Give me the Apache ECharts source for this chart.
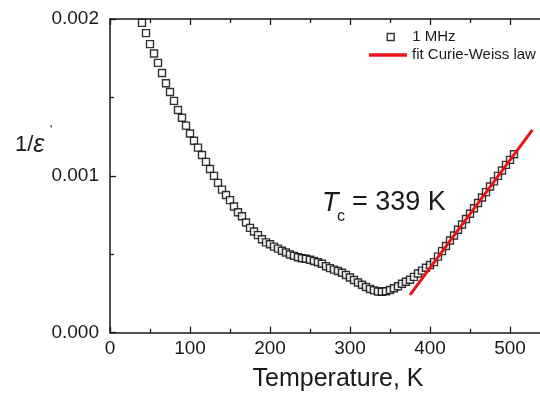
<!DOCTYPE html>
<html>
<head>
<meta charset="utf-8">
<script src="https://cdn.jsdelivr.net/npm/echarts@6/dist/echarts.min.js"></script>
<style>
html,body{margin:0;padding:0;background:#fff;}
#c{width:540px;height:396px;}
</style>
</head>
<body>
<div id="c"></div>
<script>
// Temperature (K) of each measured point
const temps = [40,45,50,55,60,65,70,75,80,85,90,95,100,105,110,115,120,125,130,135,140,145,150,155,160,165,170,175,180,185,190,195,200,205,210,215,220,225,230,235,240,245,250,255,260,265,270,275,280,285,290,295,300,305,310,315,320,325,330,335,340,345,350,355,360,365,370,375,380,385,390,395,400,405,410,415,420,425,430,435,440,445,450,455,460,465,470,475,480,485,490,495,500,505];
// 1/eps' at 1 MHz
const invEps = [0.001975,0.00191,0.00184,0.00178,0.00172,0.001656,0.00159,0.001535,0.001478,0.00142,0.00137,0.00132,0.00127,0.001224,0.00118,0.001133,0.001089,0.001044,0.001,0.000955,0.000912,0.000878,0.000845,0.000805,0.000768,0.000742,0.000703,0.000668,0.000645,0.000622,0.000596,0.000576,0.000564,0.000549,0.000536,0.000522,0.000511,0.000499,0.00049,0.000481,0.000475,0.000471,0.000465,0.000457,0.000449,0.00044,0.000424,0.000412,0.000402,0.000393,0.000382,0.000368,0.000352,0.000336,0.00032,0.000306,0.000291,0.000279,0.00027,0.000263,0.000261,0.000264,0.000272,0.000283,0.000296,0.000312,0.000325,0.000338,0.000356,0.000377,0.000396,0.000414,0.000432,0.00045,0.000485,0.00052,0.000553,0.000588,0.00062,0.000656,0.00069,0.000725,0.000758,0.000793,0.000827,0.000862,0.000896,0.000932,0.000965,0.001,0.001034,0.00107,0.001102,0.001138];
// Curie-Weiss fit line endpoints
const fitT = [375, 528];
const fitV = [0.000241, 0.001293];

const seriesNames = ['1 MHz', 'fit Curie-Weiss law'];
const xTitle = 'Temperature, K';

const RED = '#e8141a';
const INK = '#1a1a1a';
const FONT = '"Liberation Sans", Arial, sans-serif';

const chart = echarts.init(document.getElementById('c'), null, {renderer: 'canvas'});

const baseX = {
  type: 'value', min: 0, max: 550, interval: 100,
  axisLine: {show: true, lineStyle: {color: INK, width: 1.5}},
  axisTick: {show: true, inside: true, length: 6, lineStyle: {color: INK, width: 1.3}},
  minorTick: {show: true, splitNumber: 2, length: 4, lineStyle: {color: INK, width: 1.3}},
  splitLine: {show: false}
};

chart.setOption({
  animation: false,
  backgroundColor: '#fff',
  grid: {left: 110, top: 19, width: 440, height: 313.7, containLabel: false, outerBoundsMode: 'none'},
  xAxis: [
    Object.assign({}, baseX, {
      position: 'bottom',
      axisLabel: {show: true, margin: 7, color: INK, fontSize: 19, fontFamily: FONT, showMaxLabel: false,
        formatter: v => (v % 100 === 0 ? String(v) : '')}
    }),
    Object.assign({}, baseX, {position: 'top', axisLabel: {show: false}})
  ],
  yAxis: {
    type: 'value', min: 0, max: 0.002, interval: 0.001,
    axisLine: {show: true, lineStyle: {color: INK, width: 1.5}},
    axisTick: {show: true, inside: true, length: 6, lineStyle: {color: INK, width: 1.3}},
    minorTick: {show: true, splitNumber: 2, length: 4, lineStyle: {color: INK, width: 1.3}},
    splitLine: {show: false},
    axisLabel: {margin: 11, color: INK, fontSize: 19, fontFamily: FONT, formatter: v => v.toFixed(3)}
  },
  legend: [
    {
      data: [{name: seriesNames[0], icon: 'rect'}],
      left: 386.5, top: 29.5, itemWidth: 7, itemHeight: 7, padding: 0,
      itemStyle: {color: '#fff', borderColor: '#000', borderWidth: 1.4},
      formatter: n => '{a|' + n + '}',
      textStyle: {fontSize: 15, color: INK, fontFamily: FONT,
        rich: {a: {fontSize: 15, color: INK, fontFamily: FONT, padding: [0, 0, 0, 13]}}},
      selectedMode: false
    },
    {
      data: [{name: seriesNames[1], icon: 'rect'}],
      left: 369, top: 47.5, itemWidth: 38, itemHeight: 3.5, padding: 0,
      itemStyle: {color: RED, borderWidth: 0},
      textStyle: {fontSize: 15, color: INK, fontFamily: FONT},
      selectedMode: false
    }
  ],
  series: [
    {
      name: seriesNames[0], type: 'scatter', xAxisIndex: 0,
      data: temps.map((t, i) => [t, invEps[i]]),
      symbol: 'rect', symbolSize: 7,
      itemStyle: {color: '#fff', borderColor: '#000', borderWidth: 1.4},
      z: 2
    },
    {
      name: seriesNames[1], type: 'line', xAxisIndex: 0,
      data: fitT.map((t, i) => [t, fitV[i]]),
      showSymbol: false, symbol: 'none',
      lineStyle: {color: RED, width: 3},
      z: 3
    }
  ],
  graphic: [
    {type: 'text', x: 15, y: 145, style: {
      text: '{n|1/}{e|ε}', verticalAlign: 'middle',
      rich: {
        n: {fontSize: 22, fontFamily: FONT, fill: INK},
        e: {fontSize: 25, fontFamily: FONT, fontStyle: 'italic', fill: INK}
      }
    }},
    {type: 'text', x: 50, y: 131, style: {text: '\'', fontSize: 12, fontFamily: FONT, fill: INK, verticalAlign: 'middle'}},
    {type: 'text', x: 322, y: 203, style: {text: 'T', fontSize: 27, fontStyle: 'italic', fontFamily: FONT, fill: INK, verticalAlign: 'middle'}},
    {type: 'text', x: 337, y: 217, style: {text: 'c', fontSize: 16, fontFamily: FONT, fill: INK, verticalAlign: 'middle'}},
    {type: 'text', x: 352, y: 203, style: {text: '= 339 K', fontSize: 27, fontFamily: FONT, fill: INK, verticalAlign: 'middle'}},
    {type: 'text', x: 338, y: 379, style: {text: xTitle, fontSize: 25, fontFamily: FONT, fill: INK, align: 'center', verticalAlign: 'middle'}}
  ]
});
</script>
</body>
</html>
